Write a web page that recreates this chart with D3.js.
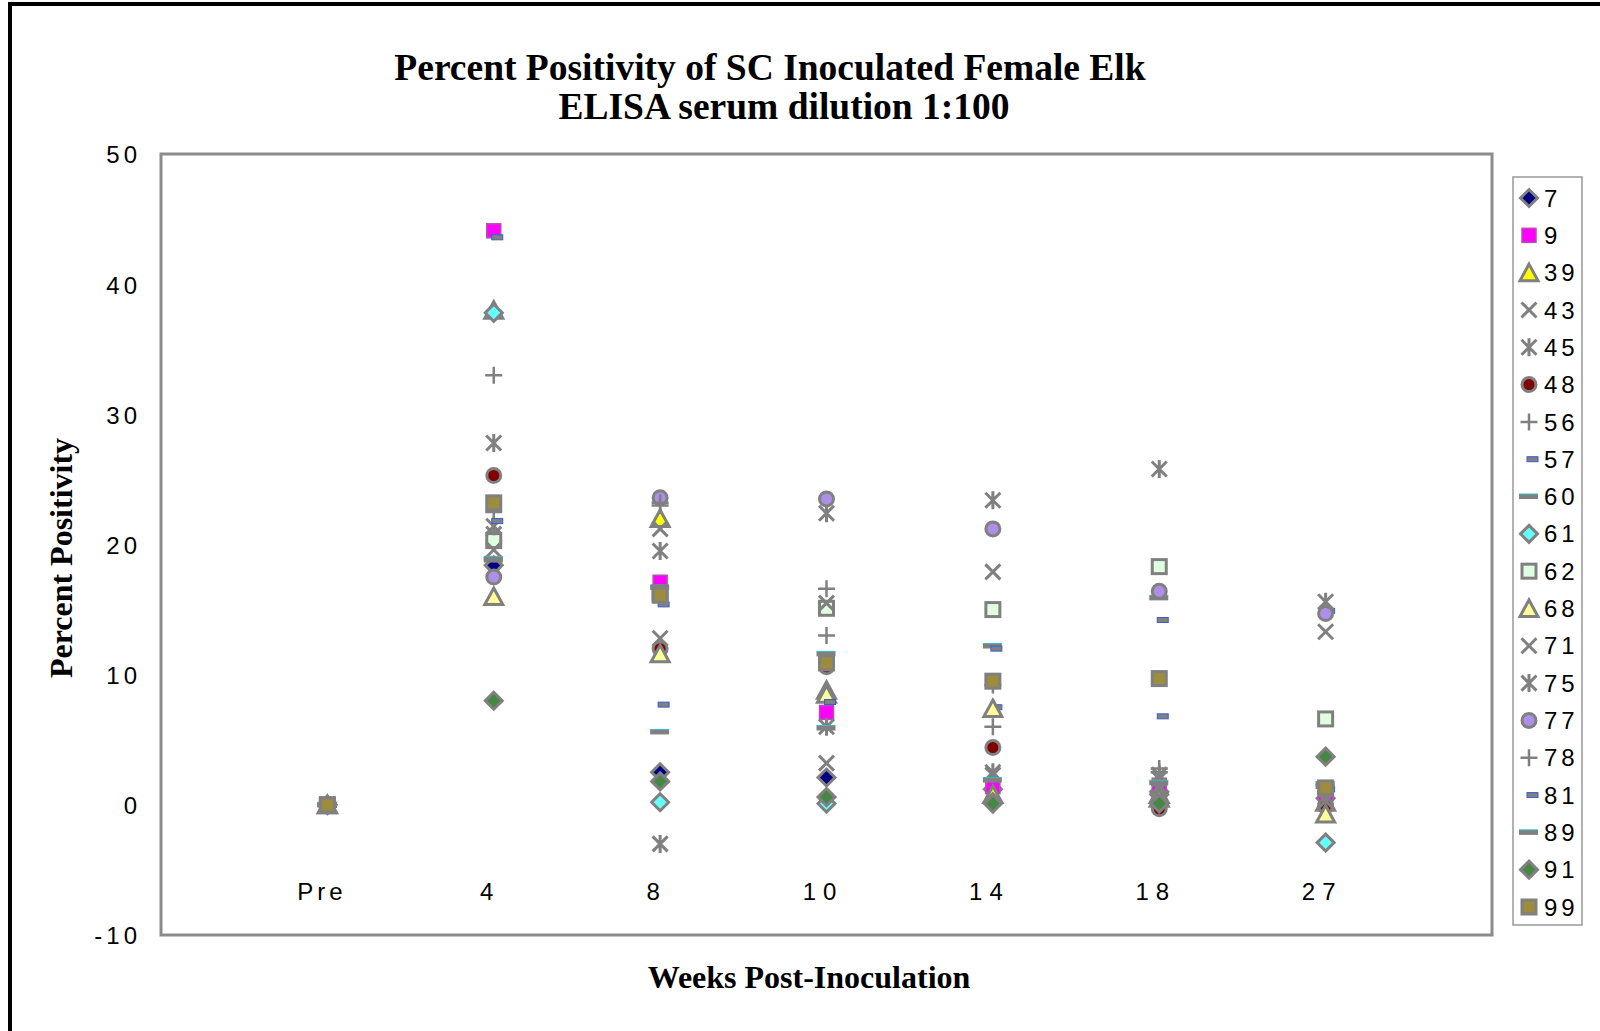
<!DOCTYPE html>
<html>
<head>
<meta charset="utf-8">
<script src="https://cdn.jsdelivr.net/npm/d3@7"></script>
<style>
  body { margin: 0; background: #fff; }
  svg { display: block; }
  .tick-lbl { font-family: "Liberation Sans", Arial, sans-serif; font-size: 24px; letter-spacing: 4px; fill: #000; }
  .ttl { font-family: "Liberation Serif", "Times New Roman", serif; font-weight: bold; fill: #000; }
</style>
</head>
<body>
<svg id="chart" width="1600" height="1031"></svg>
<script>
// categories and tick labels
var weeks = ["Pre", "4", "8", "10", "14", "18", "27"];
var yTicks = [-10, 0, 10, 20, 30, 40, 50];
var animals = ["7", "9", "39", "43", "45", "48", "56", "57", "60", "61", "62", "68", "71", "75", "77", "78", "81", "89", "91", "99"];

// percent positivity per animal, one value per week
var elk7  = [0, 18.4, 2.5, 2.1, 1.2, 1.0, 0.5];
var elk9  = [0, 44.1, 17.1, 7.1, 1.4, 1.5, 0.8];
var elk39 = [0, 38.0, 22.0, 8.8, 0.8, 0.8, 0.2];
var elk43 = [0, 20.8, 21.2, 3.2, 2.3, 2.0, 13.3];
var elk45 = [0, 27.8, 19.5, 22.4, 2.5, 2.3, 0.6];
var elk48 = [0, 25.3, 12.0, 10.6, 4.4, -0.3, -0.1];
var elk56 = [0, 33.0, 23.0, 16.6, 6.0, 2.8, 0.9];
var elk57 = [0, 43.6, 15.4, 7.9, 7.5, 6.8, 14.9];
var elk60 = [0, 18.8, 16.7, 11.6, 12.2, 15.9, 1.4];
var elk61 = [0, 37.8, 0.2, 0.1, 0.2, 0.8, -2.9];
var elk62 = [0, 20.3, 16.3, 15.1, 15.0, 18.3, 6.6];
var elk68 = [0, 16.0, 11.6, 8.5, 7.4, 0.5, -0.7];
var elk71 = [0, 19.6, 12.8, 15.5, 17.9, 1.2, 0.3];
var elk75 = [0, 21.4, -3.0, 6.0, 23.4, 25.8, 15.6];
var elk77 = [0, 17.5, 23.6, 23.5, 21.2, 16.4, 14.7];
var elk78 = [0, 22.5, 23.2, 13.0, 9.2, 2.5, 1.0];
var elk81 = [0, 21.8, 7.7, 7.9, 12.0, 14.2, 1.2];
var elk89 = [0, 18.9, 5.6, 5.9, 1.9, 1.7, 1.6];
var elk91 = [0, 8.0, 1.8, 0.6, 0.1, 0.1, 3.7];
var elk99 = [0, 23.2, 16.1, 10.9, 9.5, 9.7, 1.3];

var seriesValues = [elk7, elk9, elk39, elk43, elk45, elk48, elk56, elk57, elk60, elk61,
                    elk62, elk68, elk71, elk75, elk77, elk78, elk81, elk89, elk91, elk99];

// marker look for each animal (same order as animals)
var markerShapes = ["diamond", "square", "triangle", "x", "star", "circle", "plus", "dash", "longdash", "diamond",
                    "square", "triangle", "x", "star", "circle", "plus", "dash", "longdash", "diamond", "square"];
var markerFills = ["#000080", "#ff00ff", "#ffff00", "none", "none", "#800000", "none", "#808080", "#808080", "#66ffff",
                   "#e0ffe0", "#ffff99", "none", "none", "#ad8fea", "none", "#808080", "#808080", "#448844", "#9c8c3c"];

var gray = "#808080";
var plotLeft = 161, plotRight = 1492, plotTop = 154, plotBottom = 935;

var svg = d3.select("#chart");

// outer frame (left and top edges)
svg.append("path")
    .attr("d", "M10,1031V4H1600")
    .attr("fill", "none")
    .attr("stroke", "#000")
    .attr("stroke-width", 4);

var x = d3.scalePoint()
    .domain(weeks)
    .range([plotLeft, plotRight])
    .padding(1);

var y = d3.scaleLinear()
    .domain([-10, 50])
    .range([plotBottom, plotTop]);

// plot area border
svg.append("rect")
    .attr("x", plotLeft)
    .attr("y", plotTop)
    .attr("width", plotRight - plotLeft)
    .attr("height", plotBottom - plotTop)
    .attr("fill", "#fff")
    .attr("stroke", "#8c8c8c")
    .attr("stroke-width", 3);

// y axis (plain hyphen for negatives, like the original)
var yAxis = d3.axisLeft(y)
    .tickValues(yTicks)
    .tickFormat(function(d) { return String(d); })
    .tickSize(0)
    .tickPadding(20);

svg.append("g")
    .attr("transform", "translate(" + plotLeft + ",0)")
    .call(yAxis)
    .call(function(g) { g.select(".domain").remove(); })
    .selectAll("text")
      .attr("class", "tick-lbl")
      .attr("font-size", null)
      .attr("font-family", null)
      .attr("dy", "0.37em");

// x axis labels (Excel puts them below the zero line)
var xAxis = d3.axisBottom(x)
    .tickSize(0)
    .tickPadding(78);

svg.append("g")
    .attr("transform", "translate(0," + y(0) + ")")
    .call(xAxis)
    .call(function(g) { g.select(".domain").remove(); })
    .selectAll("text")
      .attr("class", "tick-lbl")
      .attr("font-size", null)
      .attr("font-family", null)
      .style("letter-spacing", function(d) { return d == "Pre" ? "4px" : "7px"; })
      .attr("dx", function(d) { return d == "Pre" ? -6 : -4; })
      .attr("dy", "0.71em");

function addMarker(g, shape, fill) {
  if (shape == "diamond") {
    g.append("path").attr("d", "M0,-8.5L8.5,0L0,8.5L-8.5,0Z")
      .attr("fill", fill).attr("stroke", gray).attr("stroke-width", 3);
  } else if (shape == "square") {
    g.append("rect").attr("x", -7).attr("y", -7).attr("width", 14).attr("height", 14)
      .attr("fill", fill)
      .attr("stroke", fill == "#ff00ff" ? "#b050b0" : gray)
      .attr("stroke-width", fill == "#ff00ff" ? 1.5 : 3);
  } else if (shape == "triangle") {
    g.append("path").attr("d", "M0,-8.5L9,8L-9,8Z")
      .attr("fill", fill).attr("stroke", gray).attr("stroke-width", 3)
      .attr("stroke-linejoin", "miter");
  } else if (shape == "circle") {
    g.append("circle").attr("r", 7)
      .attr("fill", fill).attr("stroke", gray).attr("stroke-width", 3);
  } else if (shape == "x") {
    g.append("path").attr("d", "M-7.5,-7.5L7.5,7.5M-7.5,7.5L7.5,-7.5")
      .attr("fill", "none").attr("stroke", gray).attr("stroke-width", 3);
  } else if (shape == "star") {
    g.append("path").attr("d", "M-7.5,-7.5L7.5,7.5M-7.5,7.5L7.5,-7.5M0,-9L0,9")
      .attr("fill", "none").attr("stroke", gray).attr("stroke-width", 3);
  } else if (shape == "plus") {
    g.append("path").attr("d", "M-8.5,0L8.5,0M0,-8.5L0,8.5")
      .attr("fill", "none").attr("stroke", gray).attr("stroke-width", 2.5);
  } else if (shape == "dash") {
    g.append("rect").attr("x", -2).attr("y", -2.5).attr("width", 11).attr("height", 5)
      .attr("fill", gray).attr("stroke", "#3a5fcd").attr("stroke-width", 1);
  } else if (shape == "longdash") {
    g.append("rect").attr("x", -10).attr("y", -2.5).attr("width", 19).attr("height", 5)
      .attr("fill", gray);
    g.append("line").attr("x1", -10).attr("x2", 9).attr("y1", -2.5).attr("y2", -2.5)
      .attr("stroke", "#33bbcc").attr("stroke-width", 1);
  }
}

// points, drawn series by series so later animals sit on top
var series = svg.selectAll(".series")
    .data(animals)
  .enter().append("g")
    .attr("class", "series");

series.each(function(a, i) {
  var vals = seriesValues[i];
  d3.select(this).selectAll(".pt")
      .data(weeks)
    .enter().append("g")
      .attr("class", "pt")
      .attr("transform", function(w, j) { return "translate(" + x(w) + "," + y(vals[j]) + ")"; })
      .each(function() { addMarker(d3.select(this), markerShapes[i], markerFills[i]); });
});

// legend
var legend = svg.append("g");
legend.append("rect")
    .attr("x", 1513)
    .attr("y", 177)
    .attr("width", 69)
    .attr("height", 748)
    .attr("fill", "#fff")
    .attr("stroke", "#999")
    .attr("stroke-width", 1.5);

var legY = d3.scalePoint().domain(animals).range([198, 907]);

var item = legend.selectAll(".leg")
    .data(animals)
  .enter().append("g")
    .attr("class", "leg")
    .attr("transform", function(a) { return "translate(1529," + legY(a) + ")"; });

item.each(function(a, i) { addMarker(d3.select(this), markerShapes[i], markerFills[i]); });

item.append("text")
    .attr("class", "tick-lbl")
    .attr("x", 15)
    .attr("dy", "0.36em")
    .text(function(a) { return a; });

// titles
svg.append("text")
    .attr("class", "ttl")
    .attr("x", 770)
    .attr("y", 80)
    .attr("text-anchor", "middle")
    .style("font-size", "37.5px")
    .text("Percent Positivity of SC Inoculated Female Elk");

svg.append("text")
    .attr("class", "ttl")
    .attr("x", 784)
    .attr("y", 119)
    .attr("text-anchor", "middle")
    .style("font-size", "37.5px")
    .text("ELISA serum dilution 1:100");

svg.append("text")
    .attr("class", "ttl")
    .attr("x", 809)
    .attr("y", 988)
    .attr("text-anchor", "middle")
    .style("font-size", "32px")
    .text("Weeks Post-Inoculation");

svg.append("text")
    .attr("class", "ttl")
    .attr("transform", "translate(72,558) rotate(-90)")
    .attr("text-anchor", "middle")
    .style("font-size", "32px")
    .text("Percent Positivity");
</script>
</body>
</html>
